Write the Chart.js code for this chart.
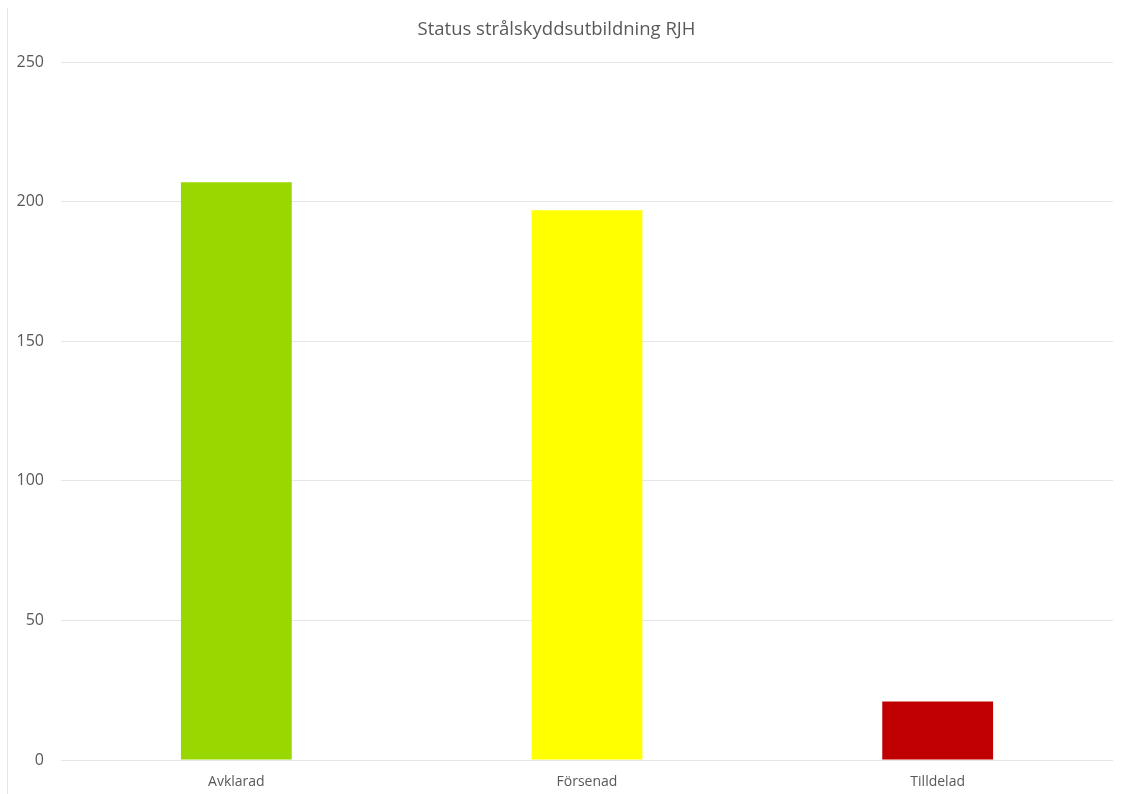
<!DOCTYPE html>
<html>
<head>
<meta charset="utf-8">
<script src="https://cdn.jsdelivr.net/npm/chart.js@4/dist/chart.umd.min.js"></script>
<style>
  body { margin: 0; background: #fff; }
  #wrap { position: relative; width: 1122px; height: 794px; }
  #edge { position: absolute; left: 7px; top: 8px; bottom: 0; border-left: 1px solid #e3e3e3; }
  canvas { display: block; }
</style>
</head>
<body>
<div id="wrap">
  <div id="edge"></div>
  <canvas id="chart" width="1122" height="794"></canvas>
</div>
<script>
// data
var categories = ["Avklarad", "Försenad", "Tilldelad"];
var counts = [207, 197, 21];
var barColors = ["#99d700", "#ffff00", "#c00000"];
var yTicks = [0, 50, 100, 150, 200, 250];

Chart.defaults.font.family = "'Open Sans', 'Noto Sans', sans-serif";
Chart.defaults.color = "#595959";

new Chart(document.getElementById("chart"), {
  type: "bar",
  data: {
    labels: categories,
    datasets: [{
      label: "Status",
      data: counts,
      backgroundColor: barColors,
      categoryPercentage: 1,
      barPercentage: 0.316
    }]
  },
  options: {
    responsive: false,
    animation: false,
    layout: { padding: { left: 0, right: 9, top: 0, bottom: 0 } },
    plugins: {
      legend: { display: false },
      tooltip: { enabled: false },
      title: {
        display: true,
        text: "Status strålskyddsutbildning RJH",
        color: "#595959",
        font: { size: 18.5, weight: "normal" },
        padding: { top: 19, bottom: 21 }
      }
    },
    scales: {
      x: {
        afterFit: function(scale) { scale.height = 34; },
        grid: { display: false, drawTicks: false },
        border: { display: false },
        ticks: { padding: 14, font: { size: 14 } }
      },
      y: {
        min: 0,
        max: 250,
        afterBuildTicks: function(scale) {
          scale.ticks = yTicks.map(function(v) { return { value: v }; });
        },
        afterFit: function(scale) { scale.width = 61; },
        grid: { color: "#e6e6e6", drawTicks: false },
        border: { display: false },
        ticks: { padding: 17, font: { size: 16 } }
      }
    }
  }
});
</script>
</body>
</html>
